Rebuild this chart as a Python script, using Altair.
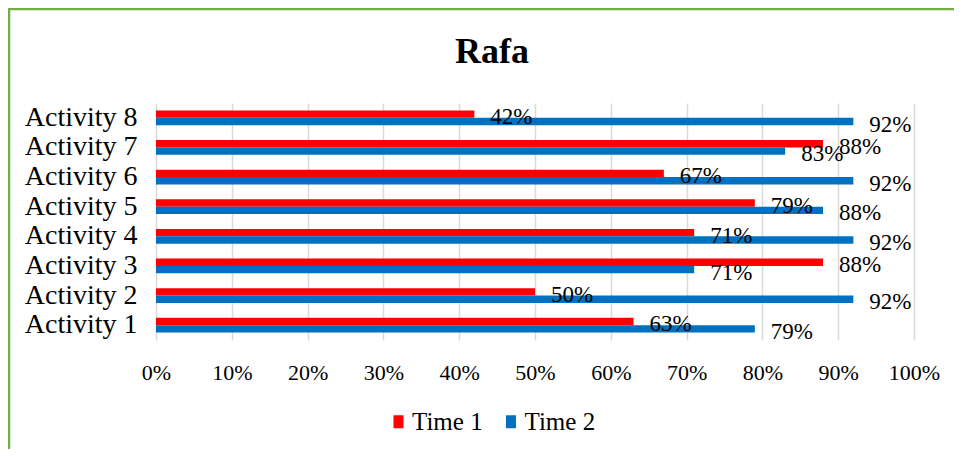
import altair as alt
import pandas as pd

activities = ["Activity 1", "Activity 2", "Activity 3", "Activity 4",
              "Activity 5", "Activity 6", "Activity 7", "Activity 8"]
time1 = [0.63, 0.50, 0.88, 0.71, 0.79, 0.67, 0.88, 0.42]
time2 = [0.79, 0.92, 0.71, 0.92, 0.88, 0.92, 0.83, 0.92]
series = ["Time 1", "Time 2"]
ticks = [0, 0.1, 0.2, 0.3, 0.4, 0.5, 0.6, 0.7, 0.8, 0.9, 1.0]

rows = []
for a, v1, v2 in zip(activities, time1, time2):
    rows.append({"activity": a, "series": series[0], "value": v1})
    rows.append({"activity": a, "series": series[1], "value": v2})
df = pd.DataFrame(rows)

FONT = "Liberation Serif"
order = list(reversed(activities))
BORDER = "#70AD47"

y_enc = alt.Y("activity:N", sort=order,
              scale=alt.Scale(paddingInner=0.5, paddingOuter=0.25),
              axis=alt.Axis(title=None, labelFont=FONT, labelFontSize=28,
                            labelColor="black", labelPadding=19, ticks=False,
                            tickSize=0, domain=False, grid=False))
yoff_enc = alt.YOffset("series:N", sort=series, scale=alt.Scale(paddingInner=0, paddingOuter=0))
x_enc = alt.X("value:Q", scale=alt.Scale(domain=[0, 1], nice=False),
              axis=alt.Axis(title=None, values=ticks, format=".0%",
                            labelFont=FONT, labelFontSize=22, labelColor="black",
                            labelPadding=22, labelFlush=False, ticks=False, tickSize=0,
                            domain=False, grid=True, gridColor="#d9d9d9", gridWidth=1.5))

color_enc = alt.Color("series:N",
                      scale=alt.Scale(domain=series, range=["#FF0000", "#0070C0"]),
                      legend=alt.Legend(title=None, orient="none", direction="horizontal",
                                        legendX=230, legendY=306, padding=0,
                                        labelFont=FONT, labelFontSize=25, labelColor="black",
                                        symbolType="M-0.77,-1L0.77,-1L0.77,1L-0.77,1Z",
                                        symbolSize=169, symbolStrokeWidth=0,
                                        labelOffset=1, columnPadding=15.5))

bars = alt.Chart(df).mark_bar(size=7.4).encode(y=y_enc, yOffset=yoff_enc, x=x_enc, color=color_enc)

labels = alt.Chart(df).mark_text(align="left", baseline="middle", dx=16, dy=3,
                                 font=FONT, fontSize=23, color="black").encode(
    y=alt.Y("activity:N", sort=order), yOffset=alt.YOffset("series:N", sort=series),
    x=alt.X("value:Q"), text=alt.Text("value:Q", format=".0%"))

frame_df = pd.DataFrame({"k": [0]})
border_left = alt.Chart(frame_df).mark_rule(color=BORDER, strokeWidth=2.5).encode(
    x=alt.value(-147), y=alt.value(-95), y2=alt.value(400))
border_top = alt.Chart(frame_df).mark_rule(color=BORDER, strokeWidth=2.5).encode(
    x=alt.value(-148), x2=alt.value(798), y=alt.value(-94))

chart = alt.layer(border_left, border_top, bars, labels).properties(
    width=758, height=237,
    title=alt.Title("Rafa", font=FONT, fontSize=36, fontWeight="bold", color="black",
                    anchor="middle", frame="group", dx=-43, offset=-92, baseline="alphabetic"),
    autosize=alt.AutoSizeParams(type="none"),
    padding={"left": 148, "top": 95, "right": 40, "bottom": 109},
).configure_view(strokeWidth=0, stroke="transparent")

chart.save("out.html", embed_options={"renderer": "svg", "actions": False})
